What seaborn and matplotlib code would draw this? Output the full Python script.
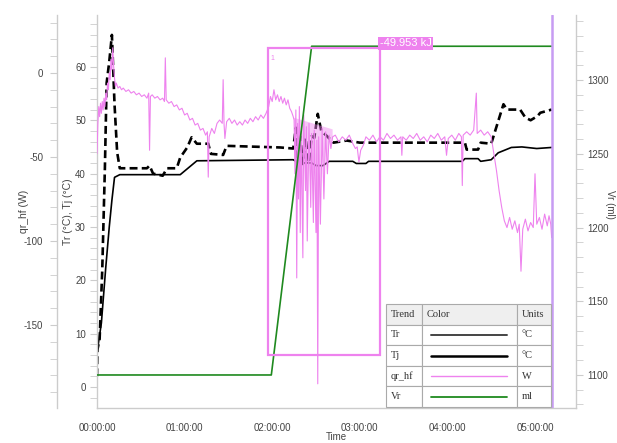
import numpy as np
import matplotlib
matplotlib.use("Agg")
import matplotlib.pyplot as plt
import seaborn as sns
from matplotlib.ticker import MultipleLocator, FuncFormatter
from matplotlib.patches import Rectangle

sns.set_style("white")
plt.rcParams['font.family'] = ['Liberation Sans', 'DejaVu Sans']
plt.rcParams['axes.unicode_minus'] = False

# ---- data (time in hours) ----
tr_time = [0.00, 0.01, 0.05, 0.10, 0.14, 0.17, 0.20, 0.26, 0.95, 1.14, 2.24, 2.30, 2.45, 2.50,
           2.58, 2.65, 2.92, 2.96, 3.07, 3.10, 4.17, 4.20, 4.35, 4.38, 4.50, 4.58, 4.73, 4.85,
           5.02, 5.19]
tr_vals = [6.0, 7.5, 12.0, 22.4, 30.0, 35.0, 39.3, 39.8, 39.8, 42.4, 42.6, 42.0, 42.0, 41.5,
           41.5, 42.3, 42.3, 41.9, 41.9, 42.3, 42.3, 42.8, 42.8, 42.3, 42.6, 43.9, 44.9, 45.0,
           44.7, 44.9]

tj_time = [0.00, 0.005, 0.03, 0.06, 0.09, 0.11, 0.14, 0.17, 0.20, 0.23, 0.26, 0.40, 0.57, 0.60,
           0.64, 0.75, 0.80, 0.91, 0.95, 1.03, 1.08, 1.14, 1.27, 1.30, 1.44, 1.48, 2.09, 2.24,
           2.27, 2.29, 2.32, 2.35, 2.38, 2.42, 2.45, 2.48, 2.52, 2.56, 2.62, 2.70, 2.85, 3.00,
           4.20, 4.22, 4.35, 4.38, 4.50, 4.64, 4.68, 4.83, 4.89, 4.95, 5.03, 5.06, 5.19]
tj_vals = [2.0, 7.0, 9.0, 22.0, 41.0, 57.0, 61.0, 66.0, 53.0, 44.0, 41.0, 41.0, 41.0, 41.5,
           40.0, 39.6, 41.0, 41.0, 43.0, 44.9, 46.8, 45.6, 45.6, 43.7, 43.5, 45.2, 44.9, 44.7,
           48.6, 42.0, 47.0, 41.8, 46.7, 42.0, 47.0, 46.7, 51.2, 48.0, 47.1, 45.8, 46.2, 45.8,
           45.8, 44.5, 44.5, 45.8, 45.6, 53.0, 52.0, 52.0, 50.5, 50.0, 50.8, 51.4, 52.0]

qr_time = [0.00, 0.01, 0.02, 0.03, 0.04, 0.05, 0.06, 0.07, 0.08, 0.09, 0.10, 0.11, 0.12, 0.13,
           0.14, 0.15, 0.16, 0.17, 0.18, 0.19, 0.20, 0.21, 0.22, 0.24, 0.26, 0.28,
           0.30, 0.33, 0.36, 0.39, 0.42, 0.45, 0.48, 0.51, 0.54, 0.57, 0.59, 0.60, 0.61, 0.63,
           0.66, 0.69, 0.72, 0.75, 0.77, 0.78, 0.79, 0.82, 0.85, 0.88, 0.91, 0.94,
           0.97, 1.00, 1.03, 1.06, 1.09, 1.12, 1.15, 1.18, 1.21, 1.24, 1.26, 1.27, 1.28, 1.31,
           1.34, 1.37, 1.40, 1.43, 1.44, 1.45, 1.46, 1.48, 1.51, 1.54, 1.57, 1.60, 1.63, 1.66,
           1.69, 1.72, 1.75, 1.78, 1.81, 1.84, 1.87, 1.90, 1.93,
           1.96, 1.98, 2.00, 2.02, 2.04, 2.06, 2.08, 2.10, 2.12, 2.14, 2.16, 2.18, 2.20, 2.22, 2.24,
           2.25, 2.26, 2.27, 2.28, 2.29, 2.30, 2.31, 2.32, 2.33, 2.35, 2.36, 2.38, 2.39, 2.40,
           2.42, 2.44, 2.45, 2.47, 2.48, 2.50, 2.51, 2.52, 2.53, 2.55, 2.57, 2.59, 2.61, 2.63,
           2.65, 2.67, 2.69,
           2.72, 2.76, 2.80, 2.84, 2.88, 2.92, 2.95, 2.97, 2.99, 3.01, 3.04, 3.07, 3.11, 3.15,
           3.19, 3.23, 3.27, 3.31, 3.35, 3.39, 3.43, 3.47, 3.48, 3.49, 3.53, 3.57, 3.61, 3.65,
           3.69, 3.73, 3.77, 3.81, 3.85, 3.89, 3.93, 3.97, 3.99, 4.01, 4.05, 4.09, 4.13, 4.16,
           4.17, 4.18, 4.22, 4.26, 4.30, 4.33, 4.34, 4.38, 4.42, 4.46, 4.50,
           4.53, 4.56, 4.59, 4.62, 4.65, 4.68, 4.71, 4.74, 4.77, 4.80, 4.82, 4.84, 4.86, 4.89,
           4.92, 4.95, 4.98, 5.00, 5.02, 5.05, 5.08, 5.11, 5.14, 5.16, 5.18, 5.19]
qr_vals = [-48, -30, -20, -26, -18, -24, -17, -22, -15, -20, -12, -16, -6, -10,
           0, -4, 8, 2, 15, 4, -3, -8, -6, -9, -8, -10,
           -9, -11, -10, -12, -11, -13, -12, -14, -13, -15, -12, -46, -14, -13,
           -15, -14, -16, -15, -17, 9, -16, -18, -17, -20, -19, -22,
           -21, -25, -24, -28, -27, -31, -30, -34, -33, -37, -35, -62, -38, -33,
           -36, -30, -28, -30, -4, -30, -39, -29, -27, -30, -28, -31, -29, -31,
           -28, -30, -27, -29, -26, -28, -25, -27, -24,
           -20, -14, -17, -10, -16, -13, -17, -14, -18, -15, -19, -16, -21, -23, -26,
           -28, -60, -22, -122, -30, -75, -20, -95, -35, -110, -25, -70, -32, -100,
           -30, -80, -36, -89, -34, -95, -40, -185, -38, -90, -33, -75, -35, -60,
           -37, -45, -38,
           -37, -41, -38, -40, -37, -42, -45, -44, -53, -46, -43, -38, -40, -37,
           -41, -38, -40, -36, -39, -37, -40, -38, -49, -38, -40, -37, -39, -36,
           -40, -38, -41, -37, -39, -36, -40, -38, -49, -39, -37, -40, -36, -38,
           -67, -37, -35, -37, -34, -12, -36, -34, -37, -35, -38,
           -48, -58, -70, -80, -88, -92, -86, -93, -88, -95, -90, -118, -93, -87,
           -94, -89, -92, -60, -90, -86, -93, -84, -91, -85, -90, -98]

vr_time = [0.00, 1.99, 2.45, 5.19]
vr_vals = [1100, 1100, 1323, 1323]

# integration window / cursor
int_start, int_end = 1.95, 3.23
int_fill_end = 2.7
int_box_low, int_box_high = 6.0, 63.5      # in Tr units
int_base = (-22, -42)                      # baseline qr_hf at window ends
int_text = "-49.953 kJ"
cursor_t = 5.19

legend_rows = [("Tr", "°C"), ("Tj", "°C"), ("qr_hf", "W"), ("Vr", "ml")]

pink = "#ee82ee"
green = "#1f8a1f"
grey = "#cccccc"
txt = "#444444"

fig = plt.figure(figsize=(6.17, 4.43), dpi=100)
ax = fig.add_axes([97 / 617, 35 / 443, 479 / 617, 393 / 443])
ax_q = ax.twinx()
ax_v = ax.twinx()

# Tr / Tj
sns.lineplot(x=tr_time, y=tr_vals, ax=ax, color="black", linewidth=1.2)
sns.lineplot(x=tj_time, y=tj_vals, ax=ax, color="black", linewidth=1.9,
             linestyle=(0, (3, 1.6)))

# qr_hf
sns.lineplot(x=qr_time, y=qr_vals, ax=ax_q, color=pink, linewidth=0.8)
qt = np.array(qr_time)
qv = np.array(qr_vals, dtype=float)
m = (qt >= int_start) & (qt <= int_fill_end)
base = np.interp(qt[m], [int_start, int_end], list(int_base))
ax_q.fill_between(qt[m], qv[m], base, where=qv[m] < base, color=pink, alpha=0.45,
                  lw=0, interpolate=True)

# Vr
sns.lineplot(x=vr_time, y=vr_vals, ax=ax_v, color=green, linewidth=1.2)

# limits
ax.set_xlim(0, 5.468)
ax.set_ylim(-3.94, 69.73)
ax_q.set_ylim(-199.4, 34.5)
ax_v.set_ylim(1077.6, 1344.2)

# axes styling
for a in (ax, ax_q, ax_v):
    for s in a.spines.values():
        s.set_visible(False)
        s.set_color(grey)
        s.set_linewidth(1)
ax.spines["left"].set_visible(True)
ax.spines["bottom"].set_visible(True)
ax_q.spines["left"].set_visible(True)
ax_q.spines["left"].set_position(("outward", 28.8))
ax_q.yaxis.set_ticks_position("left")
ax_q.yaxis.set_label_position("left")
ax_v.spines["right"].set_visible(True)

ax.xaxis.set_major_locator(MultipleLocator(1))
ax.xaxis.set_minor_locator(MultipleLocator(0.2))
ax.xaxis.set_major_formatter(FuncFormatter(
    lambda h, p: "%02d:%02d:00" % (int(h), int(round((h % 1) * 60)))))
ax.yaxis.set_major_locator(MultipleLocator(10))
ax.yaxis.set_minor_locator(MultipleLocator(2))
ax_q.yaxis.set_major_locator(MultipleLocator(50))
ax_q.yaxis.set_minor_locator(MultipleLocator(10))
ax_v.yaxis.set_major_locator(MultipleLocator(50))
ax_v.yaxis.set_minor_locator(MultipleLocator(10))

ax.tick_params(axis="x", which="major", length=6.5, color=grey, labelcolor=txt,
               labelsize=7, pad=4)
ax.tick_params(axis="x", which="minor", length=4, color=grey)
for a in (ax, ax_q, ax_v):
    a.tick_params(axis="y", which="major", length=5, color=grey, labelcolor=txt,
                  labelsize=7, pad=3)
    a.tick_params(axis="y", which="minor", length=5, color=grey)
ax_q.tick_params(axis="y", which="major", pad=5)

ax.set_xlabel("Time", fontsize=7, color=txt)
ax.xaxis.set_label_coords(0.5, -0.061)
ax.set_ylabel("Tr (°C), Tj (°C)", fontsize=7.5, color=txt)
ax.yaxis.set_label_coords(-0.05, 0.5)
ax_q.set_ylabel("qr_hf (W)", fontsize=7.5, color=txt)
ax_q.yaxis.set_label_coords(-0.142, 0.5)
ax_v.set_ylabel("Vr (ml)", fontsize=7, color=txt, rotation=270, va="bottom")
ax_v.yaxis.set_label_coords(1.06, 0.517)

# integration box and label
ax_v.add_patch(Rectangle((int_start, int_box_low), int_end - int_start,
                         int_box_high - int_box_low, transform=ax.transData,
                         fill=False, edgecolor=pink, lw=1.6, zorder=6))
ax_v.text(int_end, int_box_high, int_text, transform=ax.transData, ha="left", va="bottom",
          color="white", fontsize=8, zorder=7,
          bbox=dict(boxstyle="square,pad=0.15", fc=pink, ec="none"))
ax_v.text(int_start + 0.03, int_box_high - 1.2, "1", transform=ax.transData, ha="left",
          va="top", color=pink, fontsize=5, zorder=7)

# cursor
ax_v.axvline(cursor_t, color="#c79cf2", lw=1.8, zorder=8)

# legend table
x0 = (386 - 97) / 479
y0 = (408 - 407) / 393
tw = (551 - 386) / 479
th = (408 - 305) / 393
col_px = [36, 95, 34]
cells = [["Trend", "Color", "Units"]] + [[n, "", u] for n, u in legend_rows]
tbl = ax_v.table(cellText=cells, colWidths=[c / sum(col_px) for c in col_px],
                 bbox=[x0, y0, tw, th], cellLoc="left")
tbl.auto_set_font_size(False)
tbl.set_zorder(15)
for (r, c), cell in tbl.get_celld().items():
    cell.set_edgecolor("#aaaaaa")
    cell.set_linewidth(0.8)
    cell.set_facecolor("#efefef" if r == 0 else "white")
    cell.PAD = 4.5 / col_px[c]
    cell.get_text().set_fontfamily(["Liberation Serif", "DejaVu Serif"])
    cell.get_text().set_fontsize(7.5)
    cell.get_text().set_color("#333333")

sample_styles = [("#444444", 1.4), ("black", 1.8), (pink, 1.0), (green, 1.3)]
col_l = x0 + tw * col_px[0] / sum(col_px)
col_w = tw * col_px[1] / sum(col_px)
for i, (c, lw) in enumerate(sample_styles):
    yc = y0 + th - (i + 1.5) * th / 5
    ax_v.plot([col_l + 0.1 * col_w, col_l + 0.9 * col_w], [yc, yc],
              transform=ax_v.transAxes, color=c, lw=lw, zorder=20, clip_on=False)

fig.savefig("out.png", dpi=100)
